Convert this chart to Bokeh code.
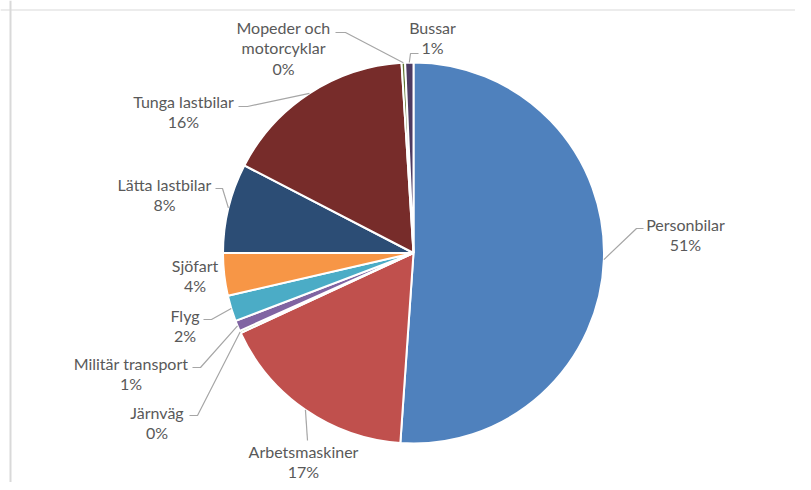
import math
from bokeh.plotting import figure
from bokeh.models import ColumnDataSource, Range1d, Span
from bokeh.core.properties import value
from bokeh.embed import file_html
from bokeh.resources import INLINE

# ---- data ----
categories = ["Personbilar", "Arbetsmaskiner", "Järnväg", "Militär transport", "Flyg",
              "Sjöfart", "Lätta lastbilar", "Tunga lastbilar", "Mopeder och motorcyklar", "Bussar"]
shares = [51.1, 17.0, 0.2, 0.9, 2.2, 3.6, 7.6, 16.4, 0.3, 0.7]
colors = ["#4F81BD", "#C0504D", "#9BBB59", "#8064A2", "#4BACC6",
          "#F79646", "#2C4D75", "#772C2A", "#5F7530", "#4D3B62"]
label_lines = [["Personbilar"], ["Arbetsmaskiner"], ["Järnväg"], ["Militär transport"], ["Flyg"],
               ["Sjöfart"], ["Lätta lastbilar"], ["Tunga lastbilar"], ["Mopeder och", "motorcyklar"], ["Bussar"]]

# ---- layout (page pixel coordinates) ----
def Y(py):
    return 490 - py

CX, CY, R = 413, Y(252.5), 190.5
label_pos = [(685, 223.5), (303, 450.5), (156.5, 411.5), (130.5, 362.5), (184.5, 314.5),
             (194.5, 264.5), (164, 183.5), (183, 100.5), (283, 26.5), (432, 26.5)]
line_gap = 20.5
leaders = [[(643, 228), (636, 228)], [(307, 440)], [(189, 415), (197, 415)],
           [(192, 367), (200, 367)], [(203, 319), (211, 319)], None,
           [(215, 188), (222, 188)], [(238, 106), (247, 106)],
           [(335, 32), (345, 32)], [(418, 53), (410, 53)]]

p = figure(width=795, height=482, x_range=Range1d(0, 795), y_range=Range1d(8, 490),
           output_backend="svg", toolbar_location=None, x_axis_type=None, y_axis_type=None,
           min_border=0, outline_line_color=None)
p.grid.visible = False
p.background_fill_color = "white"

# frame border (top and left visible)
p.add_layout(Span(location=Y(9.5), dimension="width", line_color="#d9d9d9", line_width=1))
p.add_layout(Span(location=10, dimension="height", line_color="#d9d9d9", line_width=2))

total = sum(shares)
starts, ends, mids = [], [], []
c = 0.0
for s in shares:
    f0 = c / total
    c += s
    f1 = c / total
    starts.append(math.pi / 2 - 2 * math.pi * f0)
    ends.append(math.pi / 2 - 2 * math.pi * f1)
    mids.append((f0 + f1) / 2)

src = ColumnDataSource(dict(start=starts, end=ends, color=colors, cat=categories))
p.wedge(x=CX, y=CY, radius=R, start_angle="start", end_angle="end", direction="clock",
        fill_color="color", line_color="white", line_width=2, source=src)

# leader lines
xs, ys = [], []
for i, pts in enumerate(leaders):
    if pts is None:
        continue
    th = 2 * math.pi * mids[i]
    ex = CX + R * math.sin(th)
    ey = CY + R * math.cos(th)
    xs.append([q[0] for q in pts] + [ex])
    ys.append([Y(q[1]) for q in pts] + [ey])
p.multi_line(xs=xs, ys=ys, line_color="#a6a6a6", line_width=1.2)

# labels
tx, ty, tt = [], [], []
for i, lines in enumerate(label_lines):
    lx, ly = label_pos[i]
    pct = f"{round(shares[i] / total * 100):d}%"
    for k, t in enumerate(lines + [pct]):
        tx.append(lx)
        ty.append(Y(ly + k * line_gap))
        tt.append(t)
p.text(x=tx, y=ty, text=tt, text_align="center", text_baseline="middle",
       text_font=value("Lato"), text_font_size="16px", text_color="#595959")

open("out.html", "w").write(file_html(p, INLINE))
